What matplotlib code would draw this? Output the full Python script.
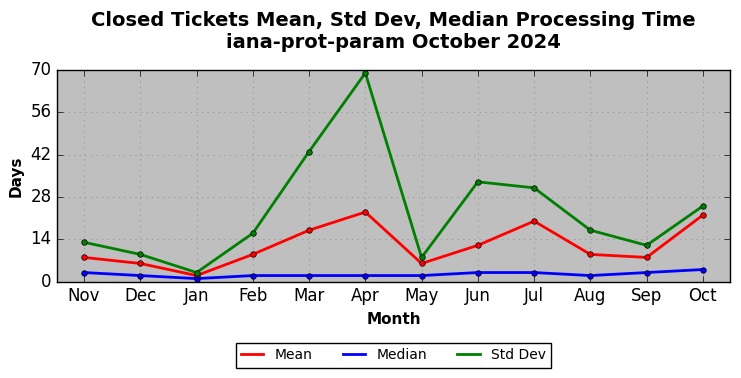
import matplotlib
matplotlib.use('Agg')
import matplotlib.pyplot as plt
from matplotlib.lines import Line2D

months = ['Nov', 'Dec', 'Jan', 'Feb', 'Mar', 'Apr', 'May', 'Jun', 'Jul', 'Aug', 'Sep', 'Oct']
mean_days = [8, 6, 2, 9, 17, 23, 6, 12, 20, 9, 8, 22]
median_days = [3, 2, 1, 2, 2, 2, 2, 3, 3, 2, 3, 4]
std_days = [13, 9, 3, 16, 43, 69, 8, 33, 31, 17, 12, 25]

plt.style.use('classic')
fig, ax = plt.subplots(figsize=(7.41, 3.78), dpi=100)
fig.patch.set_facecolor('white')
ax.set_facecolor('#bfbfbf')
ax.set_axisbelow(True)

x = range(len(months))
ax.plot(x, mean_days, color='red', linewidth=2, marker='o', markersize=4, markeredgecolor='black')
ax.plot(x, median_days, color='blue', linewidth=2, marker='o', markersize=4, markeredgecolor='black')
ax.plot(x, std_days, color='green', linewidth=2, marker='o', markersize=4, markeredgecolor='black')

ax.set_xticks(list(x))
ax.set_xticklabels(months)
ax.set_xlim(-0.48, 11.48)
ax.set_ylim(0, 70)
ax.set_yticks([0, 14, 28, 42, 56, 70])
ax.grid(True, linestyle=':', color='gray', alpha=0.8)
ax.tick_params(labelsize=12)
for s in ax.spines.values():
    s.set_zorder(3)
ax.set_xlabel('Month', fontsize=11, fontweight='bold')
ax.set_ylabel('Days', fontsize=11, fontweight='bold')
ax.set_title('Closed Tickets Mean, Std Dev, Median Processing Time\niana-prot-param October 2024',
             fontsize=14, fontweight='bold', pad=16)

handles = [Line2D([], [], color='red', linewidth=2),
           Line2D([], [], color='blue', linewidth=2),
           Line2D([], [], color='green', linewidth=2)]
ax.legend(handles, ['Mean', 'Median', 'Std Dev'], loc='upper center', bbox_to_anchor=(0.5, -0.255),
          ncol=3, fontsize=10, frameon=True, fancybox=False, handlelength=1.6,
          columnspacing=2.2, numpoints=1)

plt.subplots_adjust(left=0.077, right=0.985, top=0.815, bottom=0.255)
plt.savefig('out.png', dpi=100)
